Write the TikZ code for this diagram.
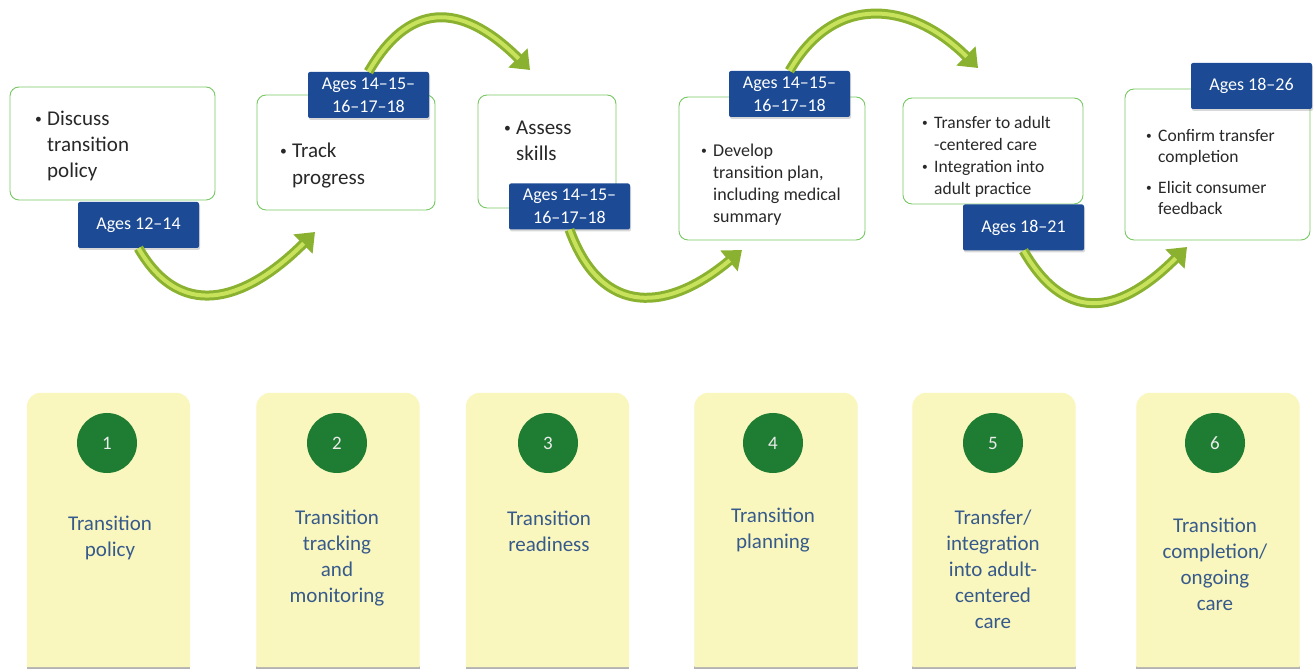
\documentclass[tikz,border=0pt]{standalone}
\usepackage{fontspec}
\setmainfont{Carlito}
\usetikzlibrary{arrows.meta,shadows,calc}

\definecolor{boxline}{RGB}{120,200,100}
\definecolor{agefill}{RGB}{28,74,148}
\definecolor{arrowdark}{RGB}{138,178,48}
\definecolor{arrowlight}{RGB}{200,226,92}
\definecolor{tabfill}{RGB}{250,247,190}
\definecolor{tabtext}{RGB}{55,90,140}
\definecolor{stepgreen}{RGB}{30,125,50}
\definecolor{bodytext}{RGB}{40,40,40}

% small bullet marker and matching hanging indent for continuation lines
\newlength\bulw \setlength\bulw{12pt}
\newcommand\bulmark{\makebox[\bulw][l]{\raisebox{0.12em}{\scalebox{0.65}{\textbullet}}}}
\newcommand\bulind{\hspace*{\bulw}}

\begin{document}
\begin{tikzpicture}[x=1pt,y=1pt,
  stagebox/.style={draw=boxline, line width=0.9pt, fill=white, rounded corners=9pt, inner sep=0pt},
  bullets/.style={align=left, inner sep=0pt, text=bodytext, anchor=west},
  agebox/.style={fill=agefill, rounded corners=2pt, minimum width=121pt, minimum height=46pt,
    text=white, align=center, inner sep=0pt, font=\fontsize{18}{23}\selectfont,
    drop shadow={shadow xshift=1pt, shadow yshift=-2pt, opacity=0.3}},
  flowbody/.style={draw=arrowdark, line width=10pt, -{Triangle[length=17pt,width=26pt]}},
  flowshine/.style={draw=arrowlight, line width=4pt, shorten >=16pt},
  tabbase/.style={minimum width=163pt, minimum height=274pt, inner sep=0pt},
  stepdot/.style={circle, fill=stepgreen, minimum size=60pt, inner sep=0pt, text=white!92!black,
    font=\fontsize{19}{22}\selectfont},
  steptext/.style={align=center, inner sep=0pt, text=tabtext, font=\fontsize{21}{26}\selectfont}
]
\fill[white] (0,0) rectangle (1315,669);
\useasboundingbox (0,0) rectangle (1315,669);

% ---- stage boxes (top row) ----
\node[stagebox, minimum width=205pt, minimum height=113pt] (box1) at (112.5,525.5) {};
\node[stagebox, minimum width=178pt, minimum height=115pt] (box2) at (346,516.5) {};
\node[stagebox, minimum width=138pt, minimum height=113pt] (box3) at (547,517.5) {};
\node[stagebox, minimum width=186pt, minimum height=143pt] (box4) at (772,500.5) {};
\node[stagebox, minimum width=180pt, minimum height=106pt] (box5) at (993,518) {};
\node[stagebox, minimum width=185pt, minimum height=151pt] (box6) at (1217.5,504.5) {};

\node[bullets, font=\fontsize{21}{26}\selectfont] (txt1) at (35,523)
  {\bulmark Discuss\\\bulind transition\\\bulind policy};
\node[bullets, font=\fontsize{21}{27}\selectfont] (txt2) at (280,503)
  {\bulmark Track\\\bulind progress};
\node[bullets, font=\fontsize{21}{26}\selectfont] (txt3) at (504,528)
  {\bulmark Assess\\\bulind skills};
\node[bullets, font=\fontsize{18}{22}\selectfont] (txt4) at (701,484)
  {\bulmark Develop\\\bulind transition plan,\\\bulind including medical\\\bulind summary};
\node[bullets, font=\fontsize{17.5}{22}\selectfont] (txt5) at (922,512)
  {\bulmark Transfer to adult\\\bulind -centered care\\\bulmark Integration into\\\bulind adult practice};
\node[bullets, font=\fontsize{17.5}{21.5}\selectfont] (txt6) at (1146,497)
  {\bulmark Confirm transfer\\\bulind completion\\[9pt]\bulmark Elicit consumer\\\bulind feedback};

% ---- age labels ----
\node[agebox] (lab1) at (138.5,444) {Ages 12--14};
\node[agebox] (lab2) at (368.5,574) {Ages 14--15--\\16--17--18};
\node[agebox] (lab3) at (569.5,462.5) {Ages 14--15--\\16--17--18};
\node[agebox] (lab4) at (789.5,575) {Ages 14--15--\\16--17--18};
\node[agebox] (lab5) at (1023.5,441.5) {Ages 18--21};
\node[agebox] (lab6) at (1251.5,583) {Ages 18--26};

% ---- curved arrows between stages ----
\coordinate (tip1) at (315,437);
\coordinate (tip2) at (530,599);
\coordinate (tip3) at (742,419);
\coordinate (tip4) at (978,601);
\coordinate (tip5) at (1187,422);
\foreach \a/\b/\o/\i/\l in {lab1.south/tip1/-60/-135/1.3, lab2.north/tip2/60/135/1.4,
    lab3.south/tip3/-70/-140/1.4, lab4.north/tip4/60/135/1.25, lab5.south/tip5/-60/-135/1.4}{
  \draw[flowbody] (\a) to[out=\o,in=\i,looseness=\l] (\b);
  \draw[flowshine] (\a) to[out=\o,in=\i,looseness=\l] (\b);
}

% ---- numbered stage tabs (bottom row) ----
\node[tabbase] (tab1) at (108.5,139) {};
\node[tabbase] (tab2) at (338,139) {};
\node[tabbase] (tab3) at (547.5,139) {};
\node[tabbase] (tab4) at (776,139) {};
\node[tabbase] (tab5) at (994,139) {};
\node[tabbase] (tab6) at (1218,139) {};
\foreach \t in {tab1,tab2,tab3,tab4,tab5,tab6}{
  \fill[black!30] ([yshift=-2pt]\t.south west) rectangle ([yshift=1pt]\t.south east);
  \fill[tabfill] (\t.south west) -- ([yshift=-14pt]\t.north west)
    arc[start angle=180,end angle=90,radius=14pt] -- ([xshift=-14pt]\t.north east)
    arc[start angle=90,end angle=0,radius=14pt] -- (\t.south east) -- cycle;
}

\node[stepdot] (n1) at (107,226) {1};
\node[stepdot] (n2) at (337,226) {2};
\node[stepdot] (n3) at (548,226) {3};
\node[stepdot] (n4) at (773,226) {4};
\node[stepdot] (n5) at (993,226) {5};
\node[stepdot] (n6) at (1215,226) {6};

\node[steptext] (s1) at (110,131.5) {Transition\\policy};
\node[steptext] (s2) at (337,110.5) {Transition\\tracking\\and\\monitoring};
\node[steptext] (s3) at (549,138) {Transition\\readiness};
\node[steptext] (s4) at (773,139) {Transition\\planning};
\node[steptext] (s5) at (993,99.5) {Transfer/\\integration\\into adult-\\centered\\care};
\node[steptext] (s6) at (1215,105) {Transition\\completion/\\ongoing\\care};
\end{tikzpicture}
\end{document}
